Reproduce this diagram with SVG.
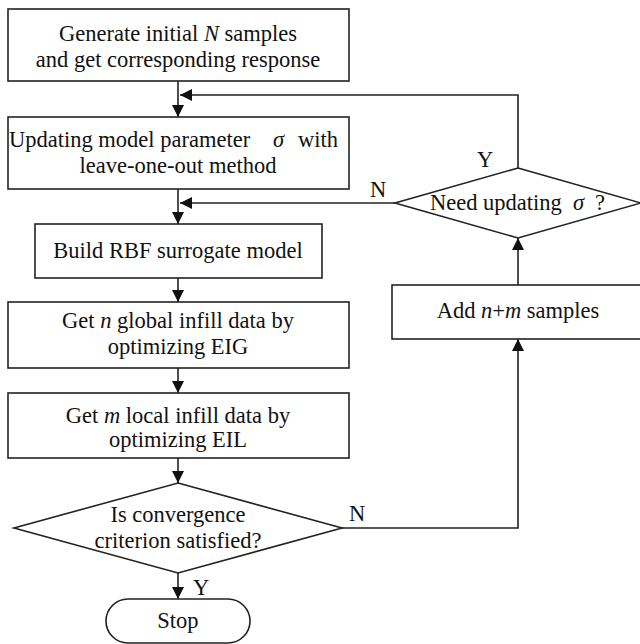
<svg xmlns="http://www.w3.org/2000/svg" width="640" height="644" viewBox="0 0 640 644">
<style>
.box{fill:#fff;stroke:#222;stroke-width:1.6}
.ln{fill:none;stroke:#222;stroke-width:1.6}
text{font-family:"Liberation Serif","Times New Roman",serif;font-size:22.5px;fill:#111}
.c{text-anchor:middle}
.i{font-style:italic}
</style>
<defs>
<marker id="ah" markerUnits="userSpaceOnUse" markerWidth="13" markerHeight="12" refX="12" refY="6" orient="auto">
<path d="M0,0 L12,6 L0,12 z" fill="#111"/>
</marker>
</defs>
<rect width="640" height="644" fill="#fff"/>
<g id="connectors">
<line class="ln" x1="178" y1="81" x2="178" y2="117" marker-end="url(#ah)"/>
<polyline class="ln" points="518,168 518,95 180,95" marker-end="url(#ah)"/>
<line class="ln" x1="178" y1="189" x2="178" y2="224" marker-end="url(#ah)"/>
<line class="ln" x1="395" y1="203" x2="180" y2="203" marker-end="url(#ah)"/>
<line class="ln" x1="178" y1="278" x2="178" y2="302" marker-end="url(#ah)"/>
<line class="ln" x1="178" y1="368" x2="178" y2="393" marker-end="url(#ah)"/>
<line class="ln" x1="178" y1="458" x2="178" y2="483" marker-end="url(#ah)"/>
<line class="ln" x1="178" y1="573" x2="178" y2="599" marker-end="url(#ah)"/>
<polyline class="ln" points="342,528 518,528 518,339" marker-end="url(#ah)"/>
<line class="ln" x1="518" y1="285" x2="518" y2="238" marker-end="url(#ah)"/>
<text x="485" y="167" class="c">Y</text>
<text x="378" y="197" class="c">N</text>
<text x="357" y="521" class="c">N</text>
<text x="201" y="595" class="c">Y</text>
</g>
<g id="n1">
<rect class="box" x="8" y="9" width="341" height="72"/>
<text x="178" y="41" class="c">Generate initial <tspan class="i">N</tspan> samples</text>
<text x="178" y="67" class="c">and get corresponding response</text>
</g>
<g id="n2">
<rect class="box" x="8" y="117" width="341" height="72"/>
<text x="9" y="147">Updating model parameter</text>
<text x="273" y="147" class="i" font-size="19">σ</text>
<text x="298" y="147">with</text>
<text x="178" y="173" class="c">leave-one-out method</text>
</g>
<g id="n3">
<rect class="box" x="35" y="224" width="287" height="54"/>
<text x="178" y="258" class="c">Build RBF surrogate model</text>
</g>
<g id="n4">
<rect class="box" x="8" y="302" width="341" height="66"/>
<text x="178" y="328" class="c">Get <tspan class="i">n</tspan> global infill data by</text>
<text x="178" y="354" class="c">optimizing EIG</text>
</g>
<g id="n5">
<rect class="box" x="8" y="393" width="341" height="65"/>
<text x="178" y="423" class="c">Get <tspan class="i">m</tspan> local infill data by</text>
<text x="178" y="447" class="c">optimizing EIL</text>
</g>
<g id="n6">
<polygon class="box" points="178,483 342,528 178,573 14,528"/>
<text x="178" y="522" class="c">Is convergence</text>
<text x="178" y="548" class="c">criterion satisfied?</text>
</g>
<g id="n7">
<rect class="box" x="106" y="599" width="144" height="44" rx="22" ry="22"/>
<text x="178" y="628" class="c">Stop</text>
</g>
<g id="n8">
<rect class="box" x="392" y="285" width="253" height="54"/>
<text x="518" y="318" class="c">Add <tspan class="i">n</tspan>+<tspan class="i">m</tspan> samples</text>
</g>
<g id="n9">
<polygon class="box" points="518,168 641,203 518,238 395,203"/>
<text x="430" y="210">Need updating</text>
<text x="573" y="210" class="i" font-size="19">σ</text>
<text x="595" y="210">?</text>
</g>
</svg>
